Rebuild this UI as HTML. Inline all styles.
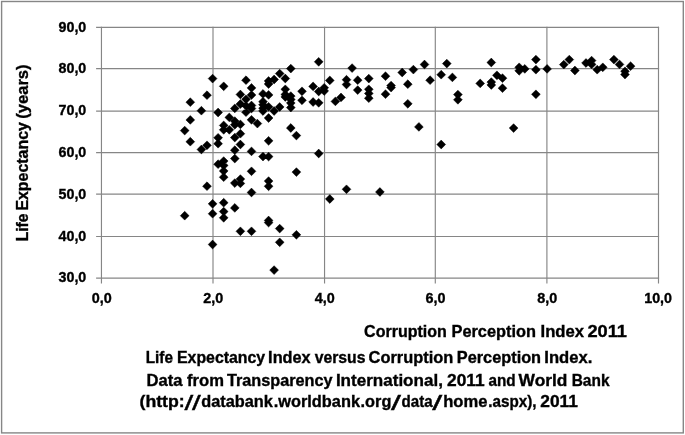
<!DOCTYPE html>
<html lang="en">
<head>
<meta charset="utf-8">
<title>Life Expectancy Index versus Corruption Perception Index</title>
<style>
html,body{margin:0;padding:0;background:#fff;}
svg{display:block;}
text{font-family:"Liberation Sans",sans-serif;font-weight:bold;fill:#000;stroke:#000;stroke-width:0.35px;}
</style>
</head>
<body>
<svg width="685" height="435" viewBox="0 0 685 435">
<rect x="0" y="0" width="685" height="435" fill="#fff"/>
<rect x="1.6" y="1.5" width="681.7" height="431.4" fill="none" stroke="#868686" stroke-width="1.4"/>
<g stroke="#868686" stroke-width="1.15" fill="none">
<line x1="96.1" y1="27.4" x2="659.08" y2="27.4"/>
<line x1="96.1" y1="68.55" x2="659.08" y2="68.55"/>
<line x1="96.1" y1="111.1" x2="659.08" y2="111.1"/>
<line x1="96.1" y1="152.55" x2="659.08" y2="152.55"/>
<line x1="96.1" y1="194.15" x2="659.08" y2="194.15"/>
<line x1="96.1" y1="236.5" x2="659.08" y2="236.5"/>
<line x1="96.1" y1="278.15" x2="659.08" y2="278.15"/>
<line x1="101.45" y1="26.82" x2="101.45" y2="283.5"/>
<line x1="213.0" y1="26.82" x2="213.0" y2="283.5"/>
<line x1="324.55" y1="26.82" x2="324.55" y2="283.5"/>
<line x1="435.3" y1="26.82" x2="435.3" y2="283.5"/>
<line x1="546.9" y1="26.82" x2="546.9" y2="283.5"/>
<line x1="658.5" y1="26.82" x2="658.5" y2="283.5"/>
</g>
<path fill="#000" stroke="#000" stroke-width="0.5" stroke-linejoin="round" d="M212.6 74.2l4.4 4.4l-4.4 4.4l-4.4 -4.4zM223.7 81.9l4.4 4.4l-4.4 4.4l-4.4 -4.4zM207.0 90.8l4.4 4.4l-4.4 4.4l-4.4 -4.4zM190.3 97.8l4.4 4.4l-4.4 4.4l-4.4 -4.4zM246.0 75.8l4.4 4.4l-4.4 4.4l-4.4 -4.4zM251.5 83.5l4.4 4.4l-4.4 4.4l-4.4 -4.4zM240.4 90.1l4.4 4.4l-4.4 4.4l-4.4 -4.4zM251.5 90.6l4.4 4.4l-4.4 4.4l-4.4 -4.4zM246.0 94.9l4.4 4.4l-4.4 4.4l-4.4 -4.4zM240.4 99.6l4.4 4.4l-4.4 4.4l-4.4 -4.4zM234.8 104.0l4.4 4.4l-4.4 4.4l-4.4 -4.4zM251.5 101.1l4.4 4.4l-4.4 4.4l-4.4 -4.4zM251.5 104.1l4.4 4.4l-4.4 4.4l-4.4 -4.4zM201.4 106.3l4.4 4.4l-4.4 4.4l-4.4 -4.4zM218.1 108.1l4.4 4.4l-4.4 4.4l-4.4 -4.4zM190.3 115.5l4.4 4.4l-4.4 4.4l-4.4 -4.4zM184.7 126.2l4.4 4.4l-4.4 4.4l-4.4 -4.4zM190.3 137.3l4.4 4.4l-4.4 4.4l-4.4 -4.4zM207.0 140.9l4.4 4.4l-4.4 4.4l-4.4 -4.4zM201.4 145.1l4.4 4.4l-4.4 4.4l-4.4 -4.4zM218.1 133.4l4.4 4.4l-4.4 4.4l-4.4 -4.4zM218.1 139.3l4.4 4.4l-4.4 4.4l-4.4 -4.4zM223.7 121.0l4.4 4.4l-4.4 4.4l-4.4 -4.4zM223.7 125.4l4.4 4.4l-4.4 4.4l-4.4 -4.4zM229.3 113.0l4.4 4.4l-4.4 4.4l-4.4 -4.4zM229.3 125.4l4.4 4.4l-4.4 4.4l-4.4 -4.4zM234.8 116.7l4.4 4.4l-4.4 4.4l-4.4 -4.4zM234.8 120.4l4.4 4.4l-4.4 4.4l-4.4 -4.4zM234.8 133.2l4.4 4.4l-4.4 4.4l-4.4 -4.4zM234.8 145.8l4.4 4.4l-4.4 4.4l-4.4 -4.4zM240.4 120.0l4.4 4.4l-4.4 4.4l-4.4 -4.4zM240.4 129.3l4.4 4.4l-4.4 4.4l-4.4 -4.4zM240.4 140.1l4.4 4.4l-4.4 4.4l-4.4 -4.4zM246.0 107.8l4.4 4.4l-4.4 4.4l-4.4 -4.4zM251.5 115.4l4.4 4.4l-4.4 4.4l-4.4 -4.4zM257.4 119.2l4.4 4.4l-4.4 4.4l-4.4 -4.4zM251.5 147.0l4.4 4.4l-4.4 4.4l-4.4 -4.4zM234.8 154.2l4.4 4.4l-4.4 4.4l-4.4 -4.4zM218.1 159.8l4.4 4.4l-4.4 4.4l-4.4 -4.4zM223.7 156.7l4.4 4.4l-4.4 4.4l-4.4 -4.4zM223.7 161.0l4.4 4.4l-4.4 4.4l-4.4 -4.4zM223.7 166.6l4.4 4.4l-4.4 4.4l-4.4 -4.4zM223.7 172.8l4.4 4.4l-4.4 4.4l-4.4 -4.4zM251.5 166.9l4.4 4.4l-4.4 4.4l-4.4 -4.4zM240.4 174.7l4.4 4.4l-4.4 4.4l-4.4 -4.4zM234.8 178.7l4.4 4.4l-4.4 4.4l-4.4 -4.4zM240.4 179.0l4.4 4.4l-4.4 4.4l-4.4 -4.4zM207.0 181.8l4.4 4.4l-4.4 4.4l-4.4 -4.4zM251.5 188.1l4.4 4.4l-4.4 4.4l-4.4 -4.4zM212.6 199.4l4.4 4.4l-4.4 4.4l-4.4 -4.4zM223.7 198.3l4.4 4.4l-4.4 4.4l-4.4 -4.4zM234.8 203.5l4.4 4.4l-4.4 4.4l-4.4 -4.4zM223.7 207.2l4.4 4.4l-4.4 4.4l-4.4 -4.4zM212.6 209.3l4.4 4.4l-4.4 4.4l-4.4 -4.4zM184.7 211.3l4.4 4.4l-4.4 4.4l-4.4 -4.4zM223.7 213.4l4.4 4.4l-4.4 4.4l-4.4 -4.4zM240.4 226.9l4.4 4.4l-4.4 4.4l-4.4 -4.4zM251.5 226.9l4.4 4.4l-4.4 4.4l-4.4 -4.4zM212.6 240.1l4.4 4.4l-4.4 4.4l-4.4 -4.4zM318.7 57.4l4.4 4.4l-4.4 4.4l-4.4 -4.4zM290.8 64.2l4.4 4.4l-4.4 4.4l-4.4 -4.4zM279.7 69.2l4.4 4.4l-4.4 4.4l-4.4 -4.4zM285.3 74.1l4.4 4.4l-4.4 4.4l-4.4 -4.4zM274.1 75.1l4.4 4.4l-4.4 4.4l-4.4 -4.4zM268.6 76.6l4.4 4.4l-4.4 4.4l-4.4 -4.4zM268.6 79.6l4.4 4.4l-4.4 4.4l-4.4 -4.4zM329.8 76.0l4.4 4.4l-4.4 4.4l-4.4 -4.4zM313.1 82.0l4.4 4.4l-4.4 4.4l-4.4 -4.4zM324.2 83.4l4.4 4.4l-4.4 4.4l-4.4 -4.4zM324.2 86.6l4.4 4.4l-4.4 4.4l-4.4 -4.4zM318.7 87.1l4.4 4.4l-4.4 4.4l-4.4 -4.4zM302.0 86.9l4.4 4.4l-4.4 4.4l-4.4 -4.4zM285.3 84.9l4.4 4.4l-4.4 4.4l-4.4 -4.4zM285.3 90.1l4.4 4.4l-4.4 4.4l-4.4 -4.4zM285.3 92.6l4.4 4.4l-4.4 4.4l-4.4 -4.4zM263.0 89.5l4.4 4.4l-4.4 4.4l-4.4 -4.4zM268.6 90.5l4.4 4.4l-4.4 4.4l-4.4 -4.4zM290.8 91.7l4.4 4.4l-4.4 4.4l-4.4 -4.4zM290.8 95.1l4.4 4.4l-4.4 4.4l-4.4 -4.4zM290.8 98.6l4.4 4.4l-4.4 4.4l-4.4 -4.4zM290.8 103.2l4.4 4.4l-4.4 4.4l-4.4 -4.4zM302.0 95.9l4.4 4.4l-4.4 4.4l-4.4 -4.4zM313.1 97.6l4.4 4.4l-4.4 4.4l-4.4 -4.4zM318.7 98.4l4.4 4.4l-4.4 4.4l-4.4 -4.4zM335.4 97.0l4.4 4.4l-4.4 4.4l-4.4 -4.4zM341.0 93.0l4.4 4.4l-4.4 4.4l-4.4 -4.4zM263.0 97.3l4.4 4.4l-4.4 4.4l-4.4 -4.4zM263.0 100.4l4.4 4.4l-4.4 4.4l-4.4 -4.4zM263.0 106.6l4.4 4.4l-4.4 4.4l-4.4 -4.4zM268.6 102.4l4.4 4.4l-4.4 4.4l-4.4 -4.4zM274.1 106.6l4.4 4.4l-4.4 4.4l-4.4 -4.4zM279.7 102.6l4.4 4.4l-4.4 4.4l-4.4 -4.4zM268.6 113.6l4.4 4.4l-4.4 4.4l-4.4 -4.4zM290.8 123.6l4.4 4.4l-4.4 4.4l-4.4 -4.4zM296.4 131.2l4.4 4.4l-4.4 4.4l-4.4 -4.4zM268.6 136.4l4.4 4.4l-4.4 4.4l-4.4 -4.4zM318.7 149.1l4.4 4.4l-4.4 4.4l-4.4 -4.4zM263.0 152.2l4.4 4.4l-4.4 4.4l-4.4 -4.4zM268.6 152.2l4.4 4.4l-4.4 4.4l-4.4 -4.4zM296.4 167.7l4.4 4.4l-4.4 4.4l-4.4 -4.4zM268.6 176.7l4.4 4.4l-4.4 4.4l-4.4 -4.4zM268.6 181.9l4.4 4.4l-4.4 4.4l-4.4 -4.4zM329.8 194.6l4.4 4.4l-4.4 4.4l-4.4 -4.4zM268.6 216.1l4.4 4.4l-4.4 4.4l-4.4 -4.4zM268.6 218.2l4.4 4.4l-4.4 4.4l-4.4 -4.4zM279.7 224.2l4.4 4.4l-4.4 4.4l-4.4 -4.4zM296.4 230.4l4.4 4.4l-4.4 4.4l-4.4 -4.4zM279.7 237.9l4.4 4.4l-4.4 4.4l-4.4 -4.4zM274.1 265.7l4.4 4.4l-4.4 4.4l-4.4 -4.4zM346.5 75.3l4.4 4.4l-4.4 4.4l-4.4 -4.4zM346.5 80.1l4.4 4.4l-4.4 4.4l-4.4 -4.4zM352.1 63.7l4.4 4.4l-4.4 4.4l-4.4 -4.4zM357.7 75.8l4.4 4.4l-4.4 4.4l-4.4 -4.4zM357.7 85.7l4.4 4.4l-4.4 4.4l-4.4 -4.4zM368.8 74.2l4.4 4.4l-4.4 4.4l-4.4 -4.4zM368.8 84.9l4.4 4.4l-4.4 4.4l-4.4 -4.4zM368.8 89.0l4.4 4.4l-4.4 4.4l-4.4 -4.4zM368.8 93.8l4.4 4.4l-4.4 4.4l-4.4 -4.4zM385.5 71.8l4.4 4.4l-4.4 4.4l-4.4 -4.4zM391.1 81.2l4.4 4.4l-4.4 4.4l-4.4 -4.4zM391.1 83.2l4.4 4.4l-4.4 4.4l-4.4 -4.4zM385.5 89.8l4.4 4.4l-4.4 4.4l-4.4 -4.4zM402.2 68.1l4.4 4.4l-4.4 4.4l-4.4 -4.4zM407.8 79.8l4.4 4.4l-4.4 4.4l-4.4 -4.4zM407.8 99.4l4.4 4.4l-4.4 4.4l-4.4 -4.4zM413.4 65.2l4.4 4.4l-4.4 4.4l-4.4 -4.4zM424.5 60.1l4.4 4.4l-4.4 4.4l-4.4 -4.4zM430.1 75.8l4.4 4.4l-4.4 4.4l-4.4 -4.4zM441.2 70.3l4.4 4.4l-4.4 4.4l-4.4 -4.4zM418.9 122.5l4.4 4.4l-4.4 4.4l-4.4 -4.4zM441.2 140.1l4.4 4.4l-4.4 4.4l-4.4 -4.4zM346.5 184.9l4.4 4.4l-4.4 4.4l-4.4 -4.4zM379.9 187.6l4.4 4.4l-4.4 4.4l-4.4 -4.4zM446.8 59.2l4.4 4.4l-4.4 4.4l-4.4 -4.4zM452.4 73.0l4.4 4.4l-4.4 4.4l-4.4 -4.4zM457.9 90.2l4.4 4.4l-4.4 4.4l-4.4 -4.4zM457.9 95.4l4.4 4.4l-4.4 4.4l-4.4 -4.4zM480.2 79.0l4.4 4.4l-4.4 4.4l-4.4 -4.4zM491.3 58.1l4.4 4.4l-4.4 4.4l-4.4 -4.4zM491.3 77.7l4.4 4.4l-4.4 4.4l-4.4 -4.4zM491.3 80.6l4.4 4.4l-4.4 4.4l-4.4 -4.4zM496.9 70.9l4.4 4.4l-4.4 4.4l-4.4 -4.4zM502.5 73.8l4.4 4.4l-4.4 4.4l-4.4 -4.4zM502.5 83.8l4.4 4.4l-4.4 4.4l-4.4 -4.4zM519.2 62.9l4.4 4.4l-4.4 4.4l-4.4 -4.4zM519.2 66.4l4.4 4.4l-4.4 4.4l-4.4 -4.4zM524.8 64.5l4.4 4.4l-4.4 4.4l-4.4 -4.4zM535.9 55.2l4.4 4.4l-4.4 4.4l-4.4 -4.4zM535.9 65.3l4.4 4.4l-4.4 4.4l-4.4 -4.4zM535.9 89.9l4.4 4.4l-4.4 4.4l-4.4 -4.4zM547.1 64.5l4.4 4.4l-4.4 4.4l-4.4 -4.4zM513.6 123.7l4.4 4.4l-4.4 4.4l-4.4 -4.4zM563.8 60.2l4.4 4.4l-4.4 4.4l-4.4 -4.4zM569.3 55.2l4.4 4.4l-4.4 4.4l-4.4 -4.4zM574.9 66.1l4.4 4.4l-4.4 4.4l-4.4 -4.4zM586.0 58.6l4.4 4.4l-4.4 4.4l-4.4 -4.4zM591.6 56.2l4.4 4.4l-4.4 4.4l-4.4 -4.4zM591.6 60.0l4.4 4.4l-4.4 4.4l-4.4 -4.4zM597.2 65.3l4.4 4.4l-4.4 4.4l-4.4 -4.4zM602.8 62.9l4.4 4.4l-4.4 4.4l-4.4 -4.4zM613.9 55.2l4.4 4.4l-4.4 4.4l-4.4 -4.4zM619.5 60.0l4.4 4.4l-4.4 4.4l-4.4 -4.4zM625.0 66.9l4.4 4.4l-4.4 4.4l-4.4 -4.4zM625.0 70.1l4.4 4.4l-4.4 4.4l-4.4 -4.4zM630.6 61.8l4.4 4.4l-4.4 4.4l-4.4 -4.4zM246.0 101.4l4.4 4.4l-4.4 4.4l-4.4 -4.4zM263.0 103.9l4.4 4.4l-4.4 4.4l-4.4 -4.4z"/>
<g font-size="14.4">
<text x="58.5" y="31.60" textLength="27.8" lengthAdjust="spacingAndGlyphs">90,0</text>
<text x="58.5" y="73.39" textLength="27.8" lengthAdjust="spacingAndGlyphs">80,0</text>
<text x="58.5" y="115.18" textLength="27.8" lengthAdjust="spacingAndGlyphs">70,0</text>
<text x="58.5" y="156.97" textLength="27.8" lengthAdjust="spacingAndGlyphs">60,0</text>
<text x="58.5" y="198.76" textLength="27.8" lengthAdjust="spacingAndGlyphs">50,0</text>
<text x="58.5" y="240.55" textLength="27.8" lengthAdjust="spacingAndGlyphs">40,0</text>
<text x="58.5" y="282.34" textLength="27.8" lengthAdjust="spacingAndGlyphs">30,0</text>
<text x="91.75" y="302.9" textLength="20.0" lengthAdjust="spacingAndGlyphs">0,0</text>
<text x="203.30" y="302.9" textLength="20.0" lengthAdjust="spacingAndGlyphs">2,0</text>
<text x="314.85" y="302.9" textLength="20.0" lengthAdjust="spacingAndGlyphs">4,0</text>
<text x="425.60" y="302.9" textLength="20.0" lengthAdjust="spacingAndGlyphs">6,0</text>
<text x="537.20" y="302.9" textLength="20.0" lengthAdjust="spacingAndGlyphs">8,0</text>
<text x="644.20" y="302.9" textLength="27.8" lengthAdjust="spacingAndGlyphs">10,0</text>
</g>
<g font-size="16.2">
<g transform="translate(27.9,240.8) rotate(-90)"><text><tspan x="-0.5" y="0" textLength="27.7" lengthAdjust="spacingAndGlyphs">Life</tspan> <tspan x="30.2" y="0" textLength="88.5" lengthAdjust="spacingAndGlyphs">Expectancy</tspan> <tspan x="122.1" y="0" textLength="54.3" lengthAdjust="spacingAndGlyphs">(years)</tspan></text>
</g>
<text><tspan x="364.1" y="337.3" textLength="82.7" lengthAdjust="spacingAndGlyphs">Corruption</tspan> <tspan x="451.5" y="337.3" textLength="84.5" lengthAdjust="spacingAndGlyphs">Perception</tspan> <tspan x="540.5" y="337.3" textLength="43.5" lengthAdjust="spacingAndGlyphs">Index</tspan> <tspan x="587.5" y="337.3" textLength="39.5" lengthAdjust="spacingAndGlyphs">2011</tspan></text>
<text><tspan x="145.7" y="363.2" textLength="27.2" lengthAdjust="spacingAndGlyphs">Life</tspan> <tspan x="177.0" y="363.2" textLength="88.1" lengthAdjust="spacingAndGlyphs">Expectancy</tspan> <tspan x="268.1" y="363.2" textLength="42.6" lengthAdjust="spacingAndGlyphs">Index</tspan> <tspan x="314.7" y="363.2" textLength="50.8" lengthAdjust="spacingAndGlyphs">versus</tspan> <tspan x="368.6" y="363.2" textLength="84.8" lengthAdjust="spacingAndGlyphs">Corruption</tspan> <tspan x="456.8" y="363.2" textLength="84.3" lengthAdjust="spacingAndGlyphs">Perception</tspan> <tspan x="544.3" y="363.2" textLength="48.0" lengthAdjust="spacingAndGlyphs">Index.</tspan></text>
<text><tspan x="146.5" y="385.6" textLength="36.0" lengthAdjust="spacingAndGlyphs">Data</tspan> <tspan x="187.1" y="385.6" textLength="36.9" lengthAdjust="spacingAndGlyphs">from</tspan> <tspan x="226.9" y="385.6" textLength="105.7" lengthAdjust="spacingAndGlyphs">Transparency</tspan> <tspan x="335.9" y="385.6" textLength="107.0" lengthAdjust="spacingAndGlyphs">International,</tspan> <tspan x="447.1" y="385.6" textLength="37.6" lengthAdjust="spacingAndGlyphs">2011</tspan> <tspan x="488.5" y="385.6" textLength="27.2" lengthAdjust="spacingAndGlyphs">and</tspan> <tspan x="518.6" y="385.6" textLength="48.8" lengthAdjust="spacingAndGlyphs">World</tspan> <tspan x="571.7" y="385.6" textLength="37.8" lengthAdjust="spacingAndGlyphs">Bank</tspan></text>
<text><tspan x="139.5" y="406.9" textLength="45.2" lengthAdjust="spacingAndGlyphs">(http:</tspan><tspan x="184.6" y="410.1" style="font-weight:normal;font-size:21px" textLength="8.8" lengthAdjust="spacingAndGlyphs">/</tspan><tspan x="192.1" y="410.1" style="font-weight:normal;font-size:21px" textLength="8.8" lengthAdjust="spacingAndGlyphs">/</tspan><tspan x="201.3" y="406.9" textLength="71.6" lengthAdjust="spacingAndGlyphs">databank</tspan><tspan x="273.7" y="406.9" textLength="86.3" lengthAdjust="spacingAndGlyphs">.worldbank</tspan><tspan x="360.6" y="406.9" textLength="30.8" lengthAdjust="spacingAndGlyphs">.org</tspan><tspan x="391.1" y="410.1" style="font-weight:normal;font-size:21px" textLength="10.0" lengthAdjust="spacingAndGlyphs">/</tspan><tspan x="401.5" y="406.9" textLength="31.1" lengthAdjust="spacingAndGlyphs">data</tspan><tspan x="432.3" y="410.1" style="font-weight:normal;font-size:21px" textLength="10.0" lengthAdjust="spacingAndGlyphs">/</tspan><tspan x="443.2" y="406.9" textLength="44.2" lengthAdjust="spacingAndGlyphs">home</tspan><tspan x="488.2" y="406.9" textLength="48.3" lengthAdjust="spacingAndGlyphs">.aspx),</tspan> <tspan x="540.3" y="406.9" textLength="37.6" lengthAdjust="spacingAndGlyphs">2011</tspan></text>
</g>
</svg>
</body>
</html>
